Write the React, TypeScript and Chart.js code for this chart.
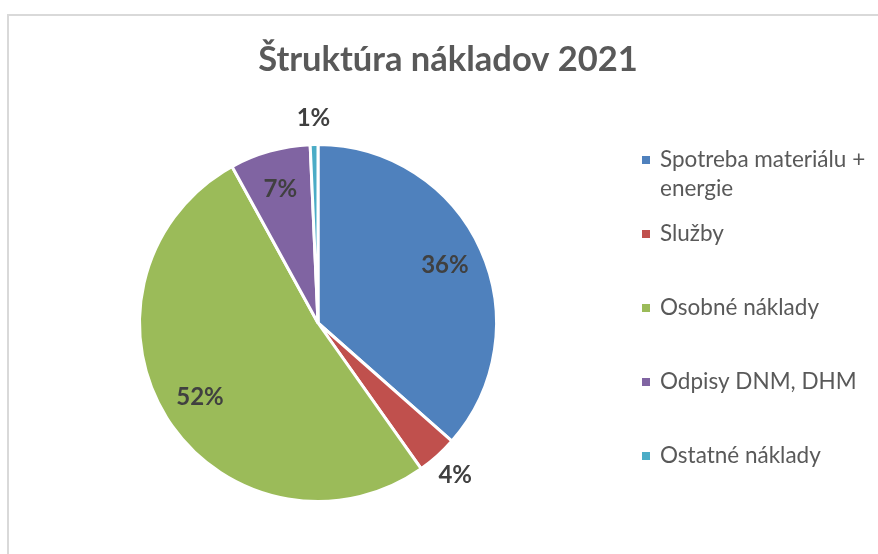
import React, { useEffect, useRef } from "react";
import { Chart, registerables } from "chart.js";

Chart.register(...registerables);

const TITLE = "Štruktúra nákladov 2021";
const categories = [
  "Spotreba materiálu + energie",
  "Služby",
  "Osobné náklady",
  "Odpisy DNM, DHM",
  "Ostatné náklady",
];
const legendLines = [
  ["Spotreba materiálu +", "energie"],
  ["Služby"],
  ["Osobné náklady"],
  ["Odpisy DNM, DHM"],
  ["Ostatné náklady"],
];
const values = [36.5, 3.7, 51.8, 7.3, 0.7];
const percentLabels = ["36%", "4%", "52%", "7%", "1%"];
const colors = ["#4F81BD", "#C0504D", "#9BBB59", "#8064A2", "#4BACC6"];

const FONT = "Lato, 'Open Sans', sans-serif";

const decor = {
  id: "decor",
  beforeDraw(chart: any) {
    const ctx = chart.ctx;
    ctx.save();
    ctx.fillStyle = "#ffffff";
    ctx.fillRect(0, 0, chart.width, chart.height);
    ctx.strokeStyle = "#d9d9d9";
    ctx.lineWidth = 2;
    ctx.strokeRect(8, 15, 1200, 1200);
    ctx.fillStyle = "#595959";
    ctx.font = `bold 34.5px ${FONT}`;
    ctx.textAlign = "center";
    ctx.textBaseline = "alphabetic";
    ctx.fillText(TITLE, 448, 71);
    ctx.restore();
  },
  afterDatasetsDraw(chart: any) {
    const ctx = chart.ctx;
    const meta = chart.getDatasetMeta(0);
    const data = chart.data.datasets[0].data as number[];
    ctx.save();
    ctx.fillStyle = "#404040";
    ctx.font = `bold 24px ${FONT}`;
    ctx.textAlign = "center";
    ctx.textBaseline = "middle";
    meta.data.forEach((arc: any, i: number) => {
      const { x, y, startAngle, endAngle, outerRadius } = arc.getProps(
        ["x", "y", "startAngle", "endAngle", "outerRadius"],
        true
      );
      const mid = (startAngle + endAngle) / 2;
      const f = data[i] < 5 ? 1.15 : 0.78;
      ctx.fillText(
        percentLabels[i],
        x + Math.cos(mid) * outerRadius * f,
        y + Math.sin(mid) * outerRadius * f
      );
    });
    // legend
    ctx.font = `22.5px ${FONT}`;
    ctx.textAlign = "left";
    legendLines.forEach((lines, i) => {
      const cy = 160 + i * 74;
      ctx.fillStyle = colors[i];
      ctx.fillRect(642, cy - 4, 8, 8);
      ctx.fillStyle = "#595959";
      lines.forEach((ln, j) => {
        ctx.fillText(ln, 660, cy + j * 29);
      });
    });
    ctx.restore();
  },
};

export default function App() {
  const ref = useRef<HTMLCanvasElement>(null);
  useEffect(() => {
    if (!ref.current) return;
    const chart = new Chart(ref.current, {
      type: "pie",
      data: {
        labels: categories,
        datasets: [
          {
            data: values,
            backgroundColor: colors,
            borderColor: "#ffffff",
            borderWidth: 3,
            hoverOffset: 0,
          },
        ],
      },
      options: {
        responsive: false,
        animation: false,
        devicePixelRatio: 1,
        layout: { padding: { left: 138, top: 143, right: 380, bottom: 51 } },
        plugins: {
          legend: { display: false },
          title: { display: false },
          tooltip: { enabled: false },
        },
      },
      plugins: [decor],
    });
    return () => chart.destroy();
  }, []);
  return (
    <div style={{ position: "fixed", left: 0, top: 0, width: 878, height: 554, background: "#fff" }}>
      <canvas ref={ref} width={878} height={554} style={{ display: "block" }} />
    </div>
  );
}
